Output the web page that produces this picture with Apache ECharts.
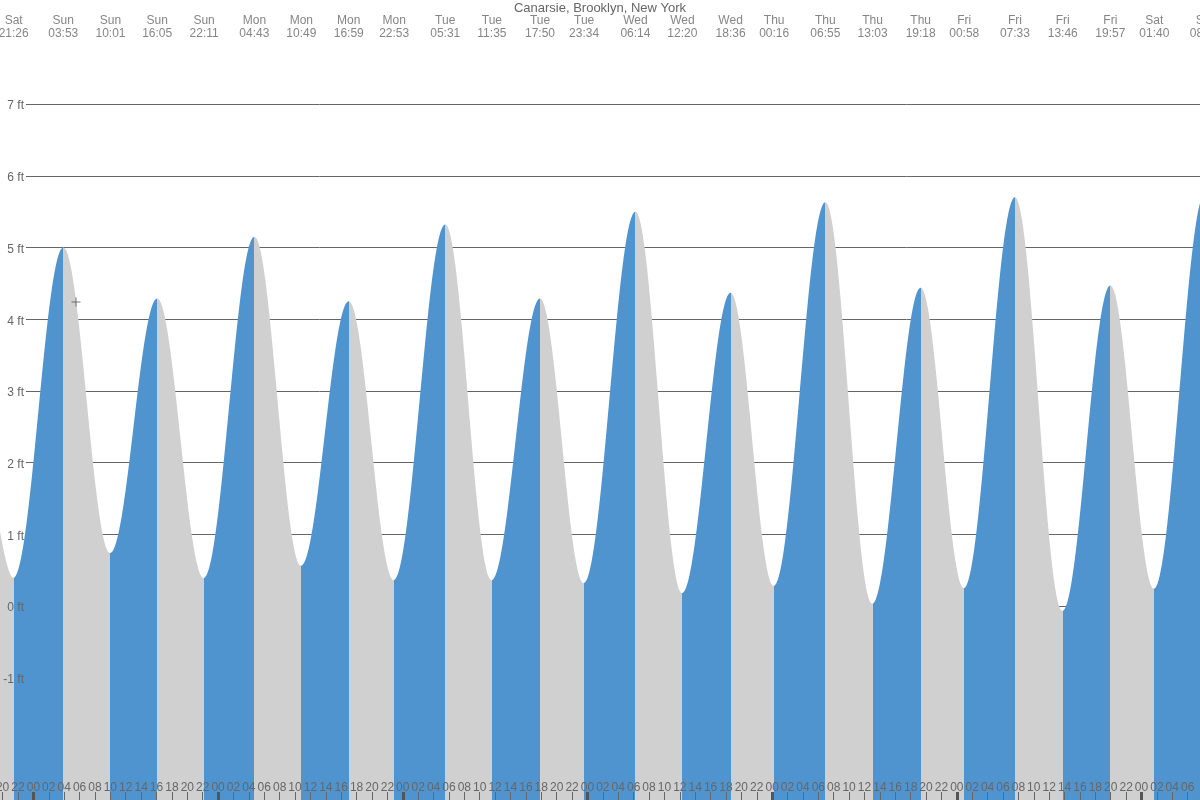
<!DOCTYPE html>
<html>
<head>
<meta charset="utf-8">
<title>Canarsie, Brooklyn, New York</title>
<script src="https://cdn.jsdelivr.net/npm/echarts@6/dist/echarts.min.js"></script>
<style>
html, body { margin: 0; padding: 0; background: #fff; }
#chart { width: 1200px; height: 800px; }
</style>
</head>
<body>
<div id="chart"></div>
<script>
// high / low water turns (the first and the last one are just off screen)
const tideDays = ['Sat', 'Sat', 'Sun', 'Sun', 'Sun', 'Sun', 'Mon', 'Mon', 'Mon', 'Mon',
	'Tue', 'Tue', 'Tue', 'Tue', 'Wed', 'Wed', 'Wed', 'Thu', 'Thu', 'Thu', 'Thu',
	'Fri', 'Fri', 'Fri', 'Fri', 'Sat', 'Sat', 'Sat'];
const tideTimes = ['15:40', '21:26', '03:53', '10:01', '16:05', '22:11', '04:43', '10:49', '16:59', '22:53',
	'05:31', '11:35', '17:50', '23:34', '06:14', '12:20', '18:36', '00:16', '06:55', '13:03', '19:18',
	'00:58', '07:33', '13:46', '19:57', '01:40', '08:14', '14:25'];
// feet
const tideHeights = [4.6, 0.39, 5.0, 0.74, 4.29, 0.39, 5.15, 0.56, 4.25, 0.36,
	5.32, 0.36, 4.29, 0.32, 5.5, 0.18, 4.37, 0.28, 5.63, 0.03, 4.44,
	0.25, 5.7, -0.07, 4.47, 0.24, 5.75, 0.1];
// the little "+" mouse cursor (hours from Sun 00:00, feet)
const cursorPoint = [[5.54, 4.24]];
const weekDays = ['Sat', 'Sun', 'Mon', 'Tue', 'Wed', 'Thu', 'Fri', 'Sat'];
const ftTicks = [-1, 0, 1, 2, 3, 4, 5, 6, 7];

// view window, hours counted from Sun 00:00
const hourMin = -4.34;
const hourMax = 151.6;
const ftMin = -2.706;
const ftMax = 8.452;

const BLUE = '#4f94cf';
const GRAY = '#d0d0d0';
const TEXT = '#666';

// hours since Sun 00:00 for each turn
let d = 0;
const tideHours = tideDays.map((name, i) => {
	if (name !== weekDays[d]) d++;
	const parts = tideTimes[i].split(':').map(Number);
	return (d - 1) * 24 + parts[0] + parts[1] / 60;
});

const evenHours = [];
for (let h = Math.ceil(hourMin / 2) * 2; h <= hourMax; h += 2) evenHours.push(h);
const midnights = evenHours.filter(h => h % 24 === 0);

// rising water blue, falling water gray
const pieces = [];
for (let i = 0; i < tideHours.length - 1; i++) {
	pieces.push({
		gte: tideHours[i],
		lt: tideHours[i + 1],
		color: tideHeights[i + 1] > tideHeights[i] ? BLUE : GRAY
	});
}

const chart = echarts.init(document.getElementById('chart'));
chart.setOption({
	animation: false,
	textStyle: { fontFamily: 'Liberation Sans, Arial, sans-serif' },
	title: {
		text: 'Canarsie, Brooklyn, New York',
		left: 'center',
		top: 0,
		padding: [1.5, 0, 0, 0],
		textStyle: { fontSize: 13, fontWeight: 'normal', color: TEXT }
	},
	grid: [
		{ left: 0, right: 0, top: 0, bottom: 0, outerBoundsMode: 'none' },
		{ left: 26, right: 0, top: 104.1, bottom: 50.6, outerBoundsMode: 'none' }
	],
	visualMap: {
		type: 'piecewise',
		show: false,
		dimension: 0,
		seriesIndex: 0,
		pieces: pieces
	},
	xAxis: [
		{
			gridIndex: 0, type: 'value', min: hourMin, max: hourMax, position: 'bottom', z: 10,
			axisLine: { show: false, onZero: false },
			splitLine: { show: false },
			axisTick: { inside: true, length: 8, customValues: evenHours, lineStyle: { color: TEXT } },
			axisLabel: {
				inside: true, margin: 6, customValues: evenHours, color: TEXT, fontSize: 12,
				formatter: v => String(((Math.round(v) % 24) + 24) % 24).padStart(2, '0')
			}
		},
		{
			gridIndex: 0, type: 'value', min: hourMin, max: hourMax, position: 'bottom', z: 11,
			axisLine: { show: false, onZero: false },
			splitLine: { show: false },
			axisTick: { inside: true, length: 8, customValues: midnights, lineStyle: { color: '#555', width: 3 } },
			axisLabel: { show: false }
		},
		{ gridIndex: 1, type: 'value', min: hourMin, max: hourMax, show: false }
	],
	yAxis: [
		{ gridIndex: 0, type: 'value', min: ftMin, max: ftMax, show: false },
		{
			gridIndex: 1, type: 'value', min: -2, max: 7, interval: 1, position: 'left', z: 0,
			axisLine: { show: false }, axisTick: { show: false }, axisLabel: { show: false },
			splitLine: { lineStyle: { color: TEXT, width: 1 } }
		},
		{
			gridIndex: 1, type: 'value', min: -2, max: 7, interval: 1, position: 'left', z: 10,
			axisLine: { show: false }, axisTick: { show: false }, splitLine: { show: false },
			axisLabel: {
				margin: 2, color: TEXT, fontSize: 12, verticalAlign: 'top', lineHeight: 4,
				formatter: v => ftTicks.indexOf(v) >= 0 ? v + ' ft' : ''
			}
		}
	],
	series: [
		{
			name: 'tide',
			type: 'line',
			xAxisIndex: 0,
			yAxisIndex: 0,
			data: tideHours.map((h, i) => [h, tideHeights[i]]),
			smooth: 0.36,
			smoothMonotone: 'x',
			symbol: 'none',
			silent: true,
			lineStyle: { width: 0 },
			areaStyle: { origin: 'start', opacity: 1 }
		},
		{
			name: 'turns',
			type: 'scatter',
			xAxisIndex: 0,
			yAxisIndex: 0,
			data: tideHours.map(h => [h, ftMax]),
			symbolSize: 0,
			clip: false,
			silent: true,
			z: 5,
			label: {
				show: true,
				position: 'bottom',
				distance: 14,
				color: TEXT,
				fontSize: 12,
				lineHeight: 13,
				align: 'center',
				formatter: p => tideDays[p.dataIndex] + '\n' + tideTimes[p.dataIndex]
			}
		},
		{
			name: 'cursor',
			type: 'scatter',
			xAxisIndex: 0,
			yAxisIndex: 0,
			data: cursorPoint,
			symbol: 'path://M0,5L10,5M5,0L5,10',
			symbolSize: 9,
			silent: true,
			z: 6,
			itemStyle: { color: 'transparent', borderColor: '#555', borderWidth: 1 }
		}
	]
});
</script>
</body>
</html>
